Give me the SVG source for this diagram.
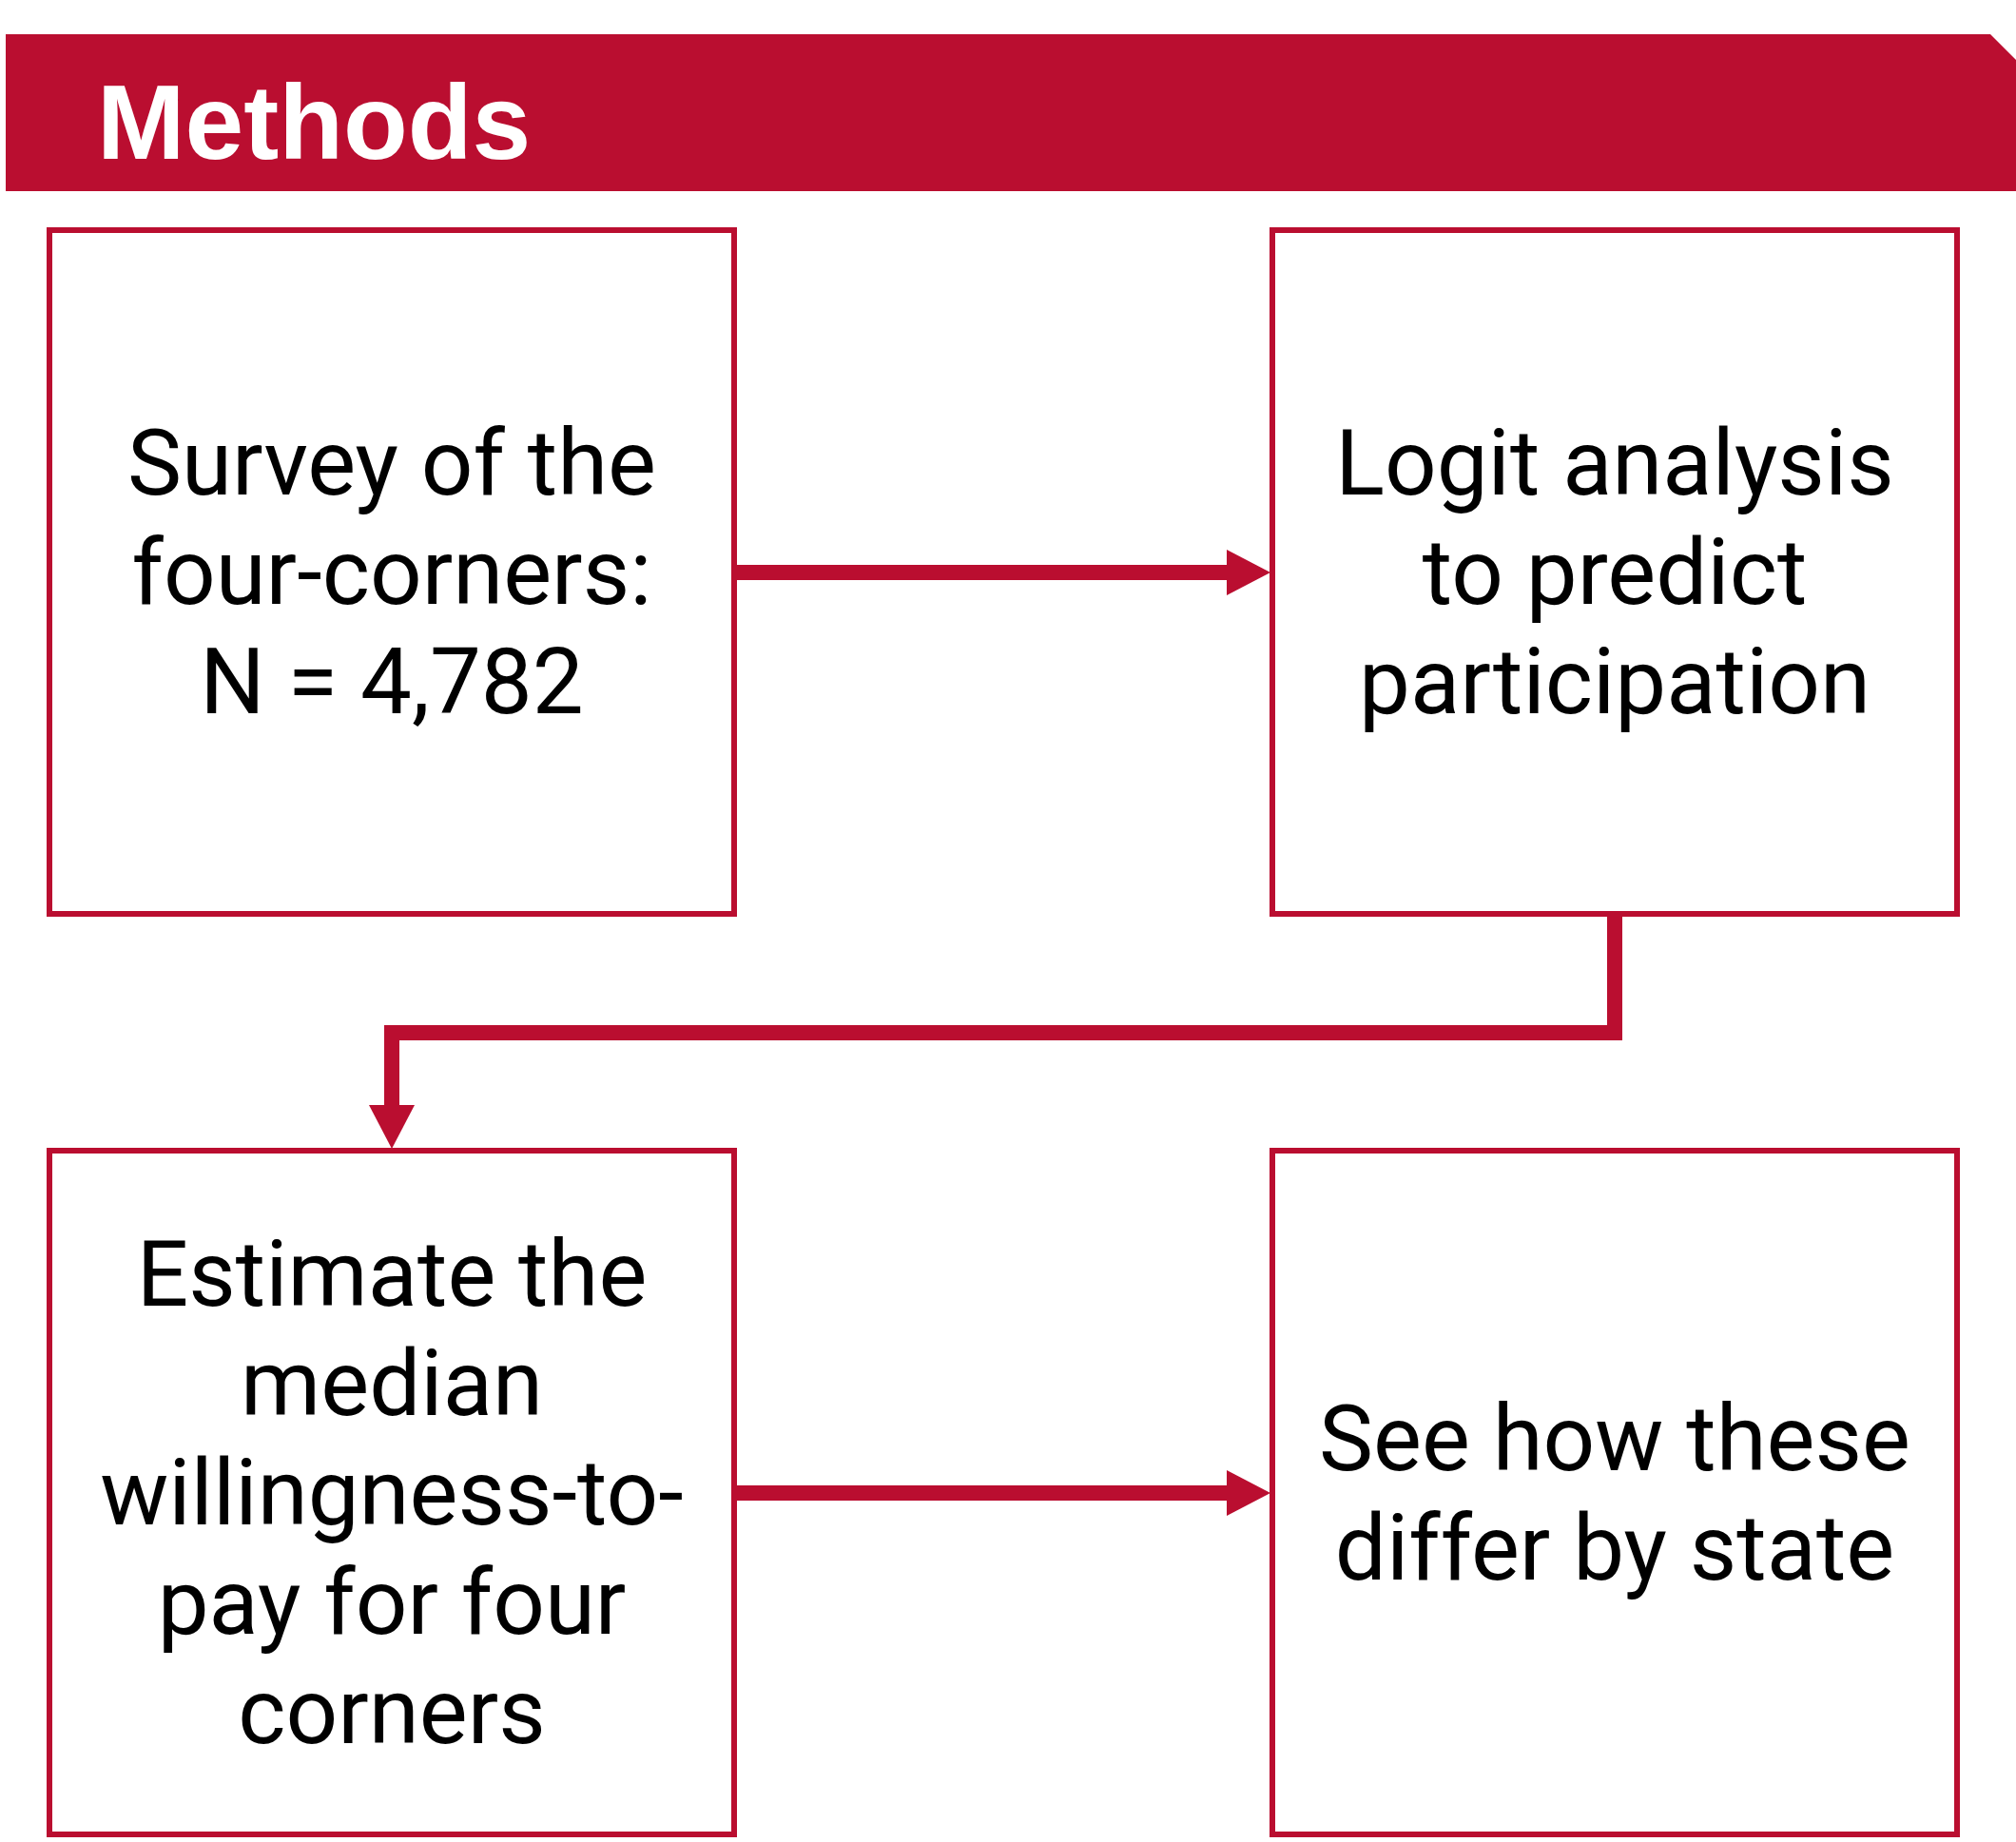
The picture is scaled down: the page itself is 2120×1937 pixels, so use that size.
<svg xmlns="http://www.w3.org/2000/svg" width="2120" height="1937" viewBox="0 0 2120 1937">
  <style>
    .box { fill: #ffffff; stroke: #BA0E30; stroke-width: 6; }
    .label { font-family: Roboto, "Liberation Sans", sans-serif; font-size: 96px; fill: #000000; text-anchor: middle; }
    .title { font-family: "Liberation Sans", Arial, sans-serif; font-weight: bold; font-size: 111px; fill: #ffffff; }
    .edge { fill: none; stroke: #BA0E30; stroke-width: 16; stroke-linejoin: miter; stroke-linecap: butt; }
  </style>
  <defs>
    <marker id="arrow" markerUnits="userSpaceOnUse" markerWidth="46" markerHeight="48" refX="0" refY="24" orient="auto" viewBox="0 0 46 48">
      <polygon points="0,0 46,24 0,48" fill="#BA0E30"/>
    </marker>
  </defs>

  <rect width="2120" height="1937" fill="#ffffff"/>

  <!-- header banner with clipped top-right corner -->
  <g id="header">
    <polygon points="6,36 2093,36 2120,63 2120,201 6,201" fill="#BA0E30"/>
    <text class="title" x="102" y="167">Methods</text>
  </g>

  <!-- connectors -->
  <g id="connectors">
    <path class="edge" d="M775,602 L1290,602" marker-end="url(#arrow)"/>
    <path class="edge" d="M1698,964 L1698,1086 L412,1086 L412,1162" marker-end="url(#arrow)"/>
    <path class="edge" d="M775,1570 L1290,1570" marker-end="url(#arrow)"/>
  </g>

  <g id="survey">
    <rect class="box" x="52" y="242" width="720" height="719"/>
    <text class="label" x="412" y="520">Survey of the</text>
    <text class="label" x="412" y="635">four-corners:</text>
    <text class="label" x="412" y="750">N = 4,782</text>
  </g>

  <g id="logit">
    <rect class="box" x="1338" y="242" width="720" height="719"/>
    <text class="label" x="1698" y="520">Logit analysis</text>
    <text class="label" x="1698" y="635">to predict</text>
    <text class="label" x="1698" y="750">participation</text>
  </g>

  <g id="estimate">
    <rect class="box" x="52" y="1210" width="720" height="719"/>
    <text class="label" x="412" y="1373">Estimate the</text>
    <text class="label" x="412" y="1488">median</text>
    <text class="label" x="412" y="1603">willingness-to-</text>
    <text class="label" x="412" y="1718">pay for four</text>
    <text class="label" x="412" y="1833">corners</text>
  </g>

  <g id="by-state">
    <rect class="box" x="1338" y="1210" width="720" height="719"/>
    <text class="label" x="1698" y="1546">See how these</text>
    <text class="label" x="1698" y="1661">differ by state</text>
  </g>
</svg>
